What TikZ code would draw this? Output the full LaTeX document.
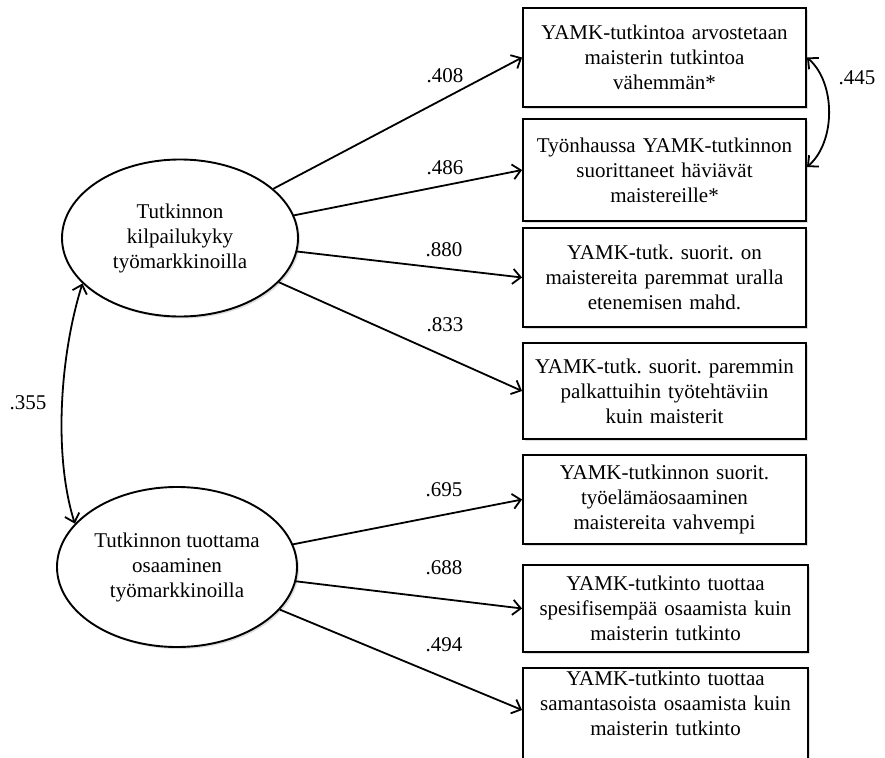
\documentclass[tikz,border=0pt]{standalone}
\usepackage{fontspec}
\setmainfont{Liberation Serif}
\usetikzlibrary{arrows.meta,shapes.geometric,shadows}

\begin{document}
\frenchspacing
\begin{tikzpicture}[x=1pt,y=-1pt,
  every node/.style={font=\fontsize{21}{25}\selectfont},
  softshadow/.style={drop shadow={shadow xshift=2pt, shadow yshift=-2pt, opacity=0.22, fill=black!60}},
  item/.style={draw, line width=1.9pt, fill=white, minimum width=283pt, text width=275pt,
    align=center, inner sep=0pt, softshadow},
  latent/.style={ellipse, draw, line width=1.9pt, fill=white, align=center, inner sep=0pt, softshadow},
  load/.style={line width=1.8pt, -{Straight Barb[length=8pt,width=15pt]}},
  cov/.style={line width=1.8pt, {Straight Barb[length=8pt,width=15pt]}-{Straight Barb[length=8pt,width=15pt]}}
]
\clip (0,0) rectangle (885,757);

% latent factors
\node[latent, minimum width=236pt, minimum height=157pt] (e1) at (180,238)
  {Tutkinnon\\ kilpailukyky\\ työmarkkinoilla};
\node[latent, minimum width=240pt, minimum height=160pt] (e2) at (177,567)
  {Tutkinnon tuottama\\ osaaminen\\ työmarkkinoilla};

% indicators of the first factor
\node[item, minimum height=99pt] (b1) at (664.5,57.5)
  {YAMK-tutkintoa arvostetaan\\ maisterin tutkintoa\\ vähemmän*};
\node[item, minimum height=102pt] (b2) at (664.5,170)
  {Työnhaussa YAMK-tutkinnon\\ suorittaneet häviävät\\ maistereille*};
\node[item, minimum height=99pt] (b3) at (664.5,277.5)
  {YAMK-tutk. suorit. on\\ maistereita paremmat uralla\\ etenemisen mahd.};
\node[item, minimum height=96pt] (b4) at (664.5,391)
  {YAMK-tutk. suorit. paremmin\\ palkattuihin työtehtäviin\\ kuin maisterit};

% indicators of the second factor
\node[item, minimum height=89pt] (b5) at (664.5,499.5)
  {YAMK-tutkinnon suorit.\\ työelämäosaaminen\\ maistereita vahvempi};
\node[item, minimum height=87pt, minimum width=285pt] (b6) at (665.5,608.5)
  {YAMK-tutkinto tuottaa\\ spesifisempää osaamista kuin\\ maisterin tutkinto};
\node[item, minimum height=140pt, minimum width=285pt, anchor=north] (b7) at (665.5,667) {};
\node[align=center, text width=275pt] (t7) at (665.5,703)
  {YAMK-tutkinto tuottaa\\ samantasoista osaamista kuin\\ maisterin tutkinto};
\coordinate (b7in) at ([yshift=-43pt]b7.north west);

% loadings
\draw[load] (e1) -- (b1.west);
\draw[load] (e1) -- (b2.west);
\draw[load] (e1) -- (b3.west);
\draw[load] (e1) -- (b4.west);
\draw[load] (e2) -- (b5.west);
\draw[load] (e2) -- (b6.west);
\draw[load] (e2) -- (b7in);

\node (l1) at (445,76) {.408};
\node (l2) at (445,168) {.486};
\node (l3) at (444,250) {.880};
\node (l4) at (445,325) {.833};
\node (l5) at (444,490) {.695};
\node (l6) at (444,568) {.688};
\node (l7) at (444,645) {.494};

% correlations
\draw[cov] (e1.205) .. controls +(-22,70) and +(-22,-70) .. (e2.157);
\node (r1) at (28,403) {.355};
\draw[cov] (b1.east) .. controls +(29,25) and +(29,-25) .. ([yshift=3pt]b2.east);
\node (r2) at (857,78) {.445};
\end{tikzpicture}
\end{document}
